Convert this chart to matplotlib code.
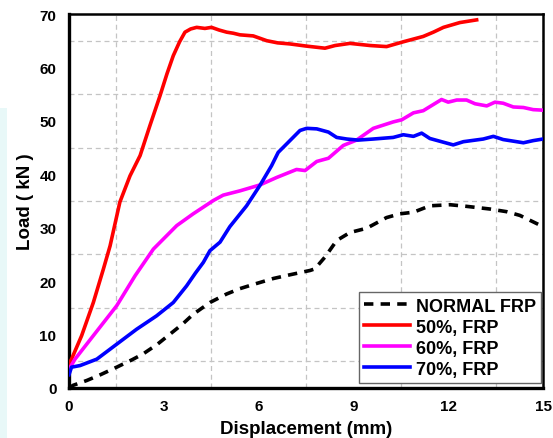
import matplotlib
matplotlib.use("Agg")
import matplotlib.pyplot as plt
from matplotlib.patches import Rectangle
from matplotlib.ticker import FixedLocator

plt.rcParams['font.family'] = ['Liberation Sans', 'DejaVu Sans']

# ---- data ----
normal_x = [0.0, 0.13, 0.56, 1.0, 1.51, 2.0, 2.35, 2.8, 3.2, 3.6, 3.93, 4.46, 4.99, 5.41, 5.9,
            6.47, 7.0, 7.63, 7.78, 8.1, 8.47, 8.89, 9.42, 10.05, 10.47, 10.9, 11.42, 12.06,
            12.58, 13.32, 13.85, 14.27, 15.0]
normal_y = [0.0, 0.5, 1.4, 2.5, 3.9, 5.3, 6.4, 8.2, 10.1, 12.0, 13.8, 16.0, 17.6, 18.6, 19.5,
            20.5, 21.2, 22.0, 22.3, 24.5, 27.6, 29.1, 29.9, 31.9, 32.6, 32.9, 34.1, 34.3,
            34.0, 33.5, 33.0, 32.3, 30.2]

r50_x = [0.0, 0.08, 0.4, 0.77, 1.09, 1.3, 1.61, 1.93, 2.25, 2.56, 2.88, 3.1, 3.3, 3.5, 3.67,
         3.85, 4.04, 4.3, 4.51, 4.75, 4.99, 5.2, 5.41, 5.83, 6.26, 6.6, 6.99, 7.5, 8.1,
         8.42, 8.89, 9.53, 10.05, 10.58, 11.21, 11.53, 11.85, 12.37, 12.9]
r50_y = [4.5, 5.4, 9.8, 16.0, 22.3, 26.6, 34.8, 39.7, 43.5, 49.1, 54.7, 58.8, 62.2, 64.8, 66.6,
         67.2, 67.5, 67.3, 67.5, 67.0, 66.6, 66.4, 66.1, 65.9, 65.0, 64.6, 64.4, 64.0, 63.6,
         64.1, 64.5, 64.1, 63.9, 64.8, 65.8, 66.6, 67.5, 68.4, 68.9]

r60_x = [0.0, 0.19, 0.77, 1.51, 2.09, 2.67, 3.41, 3.93, 4.57, 4.88, 5.41, 6.04, 6.57, 7.2,
         7.47, 7.84, 8.21, 8.68, 9.1, 9.63, 10.26, 10.53, 10.9, 11.21, 11.79, 12.0, 12.27,
         12.58, 12.85, 13.22, 13.48, 13.74, 14.06, 14.38, 14.69, 15.0]
r60_y = [3.5, 5.4, 9.8, 15.4, 21.0, 26.0, 30.4, 32.6, 35.1, 36.1, 36.9, 38.0, 39.4, 40.9,
         40.7, 42.4, 43.0, 45.4, 46.4, 48.6, 49.8, 50.2, 51.5, 51.9, 54.0, 53.5, 53.9,
         53.9, 53.2, 52.8, 53.5, 53.3, 52.6, 52.5, 52.1, 52.0]

r70_x = [0.0, 0.08, 0.35, 0.88, 1.51, 2.14, 2.77, 3.3, 3.72, 4.0, 4.25, 4.46, 4.78, 5.09,
         5.62, 6.04, 6.41, 6.62, 6.89, 7.31, 7.52, 7.84, 8.21, 8.47, 8.79, 9.15, 9.63,
         10.26, 10.58, 10.9, 11.16, 11.42, 11.85, 12.16, 12.48, 13.11, 13.43, 13.74, 14.38,
         14.69, 15.0]
r70_y = [2.5, 3.9, 4.2, 5.4, 8.2, 11.0, 13.5, 16.0, 19.1, 21.5, 23.5, 25.7, 27.3, 30.2,
         34.1, 37.9, 41.6, 44.1, 45.7, 48.2, 48.6, 48.5, 47.9, 46.9, 46.6, 46.4, 46.6,
         46.9, 47.4, 47.1, 47.7, 46.7, 46.0, 45.5, 46.1, 46.6, 47.1, 46.5, 45.9, 46.3, 46.6]

labels = ["NORMAL FRP", "50%, FRP", "60%, FRP", "70%, FRP"]
x_ticks = [0, 3, 6, 9, 12, 15]
y_ticks = [0, 10, 20, 30, 40, 50, 60, 70]
x_grid = [1.5, 4.5, 7.5, 10.5, 13.5]
y_grid = [5, 15, 25, 35, 45, 55, 65]

# ---- figure ----
fig = plt.figure(figsize=(5.53, 4.39), dpi=100)
fig.patch.set_facecolor('white')
# faint watermark strip on the left edge
fig.patches.append(Rectangle((0, 0), 7 / 553, 330 / 439, transform=fig.transFigure,
                             facecolor='#e8f8f8', edgecolor='none', zorder=0))

ax = fig.add_axes([69 / 553, 1 - 389 / 439, (543 - 69) / 553, (389 - 15) / 439])
ax.set_xlim(0, 15)
ax.set_ylim(0, 70)

lw = 2.6
ax.plot(normal_x, normal_y, color='black', lw=lw, linestyle=(0, (2.6, 2.0)),
        label=labels[0], zorder=3)
ax.plot(r50_x, r50_y, color='#ff0000', lw=lw, label=labels[1], zorder=3)
ax.plot(r60_x, r60_y, color='#ff00ff', lw=lw, label=labels[2], zorder=3)
ax.plot(r70_x, r70_y, color='#0000ff', lw=lw, label=labels[3], zorder=3)

ax.set_xticks(x_ticks)
ax.set_yticks(y_ticks)
# grid lines sit half-way between major ticks
ax.xaxis.set_minor_locator(FixedLocator(x_grid))
ax.yaxis.set_minor_locator(FixedLocator(y_grid))
ax.grid(False, which='major')
ax.grid(True, which='minor', color='#c4c4c4', linestyle=(0, (4, 3)), lw=0.9)
ax.tick_params(which='both', length=0)
ax.tick_params(axis='x', pad=8, labelsize=11)
ax.tick_params(axis='y', pad=9, labelsize=11)
for t in ax.get_xticklabels() + ax.get_yticklabels():
    t.set_fontweight('bold')

for s in ['left', 'bottom']:
    ax.spines[s].set_linewidth(2.4)
for s in ['top', 'right']:
    ax.spines[s].set_linewidth(1.8)

ax.set_xlabel("Displacement (mm)", fontsize=13.5, fontweight='bold', labelpad=5)
ax.set_ylabel("Load ( kN )", fontsize=13.5, fontweight='bold', labelpad=4)

leg = ax.legend(loc='lower right', prop={'weight': 'bold', 'size': 13}, frameon=True,
                fancybox=False, edgecolor='#666666', framealpha=1, handlelength=2.55,
                handletextpad=0.3, borderpad=0.3, labelspacing=0.22, borderaxespad=0,
                bbox_to_anchor=(0.996, 0.013))
leg.get_frame().set_linewidth(1.0)

fig.savefig("out.png", dpi=100)
